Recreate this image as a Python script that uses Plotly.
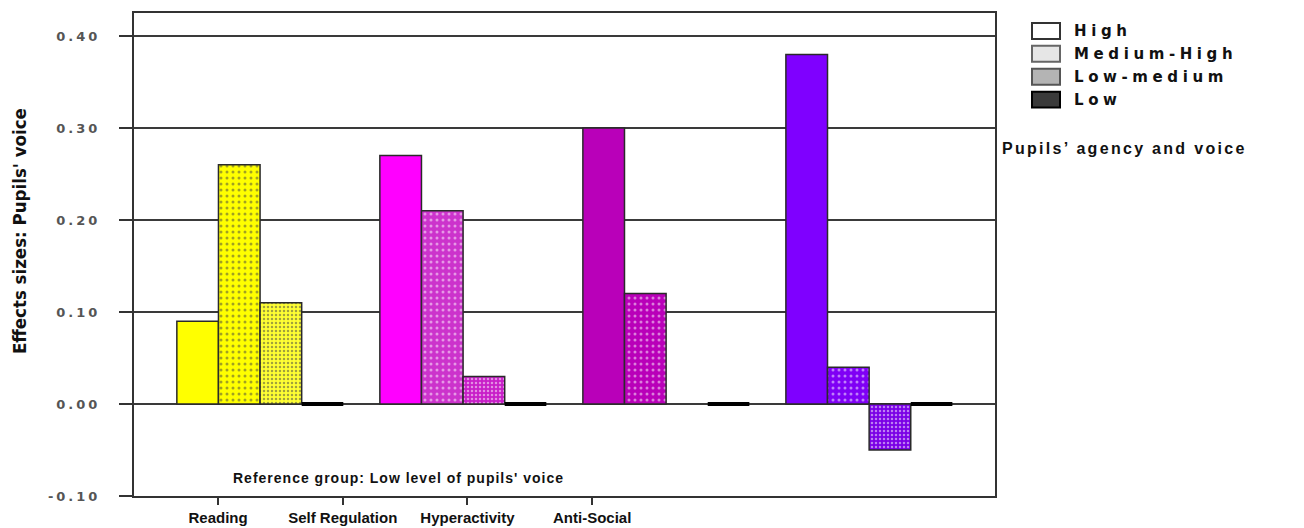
import plotly.graph_objects as go

categories = ["Reading", "Self Regulation", "Hyperactivity", "Anti-Social"]
levels = ["High", "Medium-High", "Low-medium", "Low"]

high = [0.09, 0.27, 0.30, 0.38]
medium_high = [0.26, 0.21, 0.12, 0.04]
low_medium = [0.11, 0.03, 0.00, -0.05]
low = [0.00, 0.00, 0.00, 0.00]

y_ticks = [-0.10, 0.00, 0.10, 0.20, 0.30, 0.40]

# colours per category (bars), pattern dot colours per category
base_col = ["#ffff00", "#ff00ff", "#b900b9", "#7f00ff"]
mh_col = ["#ffff00", "#cc33cc", "#b900b9", "#7f00f5"]
lm_col = ["#ffff33", "#c81ec8", "#b900b9", "#7a00e6"]
mh_dot = ["#5a5a3a", "#f080f0", "#e890e8", "#c890ff"]
lm_dot = ["#6a6a40", "#d050d0", "#d060d0", "#b070ff"]

W, H = 1304, 528
OFF = 8  # page body margin
PL, PR, PT, PB = 134, 995, 11, 496  # plot area on screen


def px(x):
    return (x - PL) / (PR - PL)


def py(y):
    return (PB - y) / (PB - PT)


def spaced(text, gap):
    return f'<span style="letter-spacing:{gap}px">{text}</span>'


xs = list(range(len(categories)))
outline = "#2a2a2a"

fig = go.Figure()
fig.add_trace(go.Bar(
    x=xs, y=high, name=levels[0], showlegend=False,
    marker=dict(color=base_col, line=dict(color=outline, width=1.5)),
))
fig.add_trace(go.Bar(
    x=xs, y=medium_high, name=levels[1], showlegend=False,
    marker=dict(
        color=mh_col, line=dict(color=outline, width=1.5),
        pattern=dict(shape=".", fgcolor=mh_dot, size=6, solidity=0.2),
    ),
))
fig.add_trace(go.Bar(
    x=xs, y=low_medium, name=levels[2], showlegend=False,
    marker=dict(
        color=lm_col,
        line=dict(color=outline, width=[1.5 if v != 0 else 0 for v in low_medium]),
        pattern=dict(shape=".", fgcolor=lm_dot, size=4, solidity=0.3),
    ),
))
fig.add_trace(go.Bar(
    x=xs, y=low, name=levels[3], showlegend=False,
    marker=dict(color="#000000", line=dict(color="#000000", width=4)),
))
# carrier for the category axis
fig.add_trace(go.Scatter(
    x=categories, y=[None] * len(categories), xaxis="x2", mode="markers",
    showlegend=False, hoverinfo="skip",
))

shapes = []
annotations = []

# legend boxes
leg_fill = ["#ffffff", "#e6e6e6", "#b4b4b4", "#3a3a3a"]
leg_line = ["#333333", "#666666", "#555555", "#000000"]
row_y = [29, 52, 75, 98]
for lv, fc, lc, ry in zip(levels, leg_fill, leg_line, row_y):
    shapes.append(dict(
        type="rect", xref="paper", yref="paper",
        x0=px(1032), x1=px(1060), y0=py(ry + 8), y1=py(ry - 8),
        fillcolor=fc, line=dict(color=lc, width=2),
    ))
    annotations.append(dict(
        text=spaced(lv, 4.6), xref="paper", yref="paper", x=px(1072), y=py(ry),
        xanchor="left", yanchor="middle", showarrow=False,
        font=dict(family="DejaVu Sans", size=15, color="#111111", weight="bold"),
    ))

annotations.append(dict(
    text=spaced("Pupils\u2019 agency and voice", 2.3), xref="paper", yref="paper",
    x=px(1000), y=py(147), xanchor="left", yanchor="middle", showarrow=False,
    font=dict(family="Liberation Sans", size=16, color="#111111", weight="bold"),
))
annotations.append(dict(
    text=spaced("Reference group: Low level of pupils' voice", 1), xref="paper", yref="y",
    x=px(398), y=-0.08, xanchor="center", yanchor="middle", showarrow=False,
    font=dict(family="Liberation Sans", size=14, color="#111111", weight="bold"),
))
annotations.append(dict(
    text="Effects sizes: Pupils' voice", xref="paper", yref="paper",
    x=px(19), y=py(230), xanchor="center", yanchor="middle", showarrow=False,
    textangle=-90,
    font=dict(family="DejaVu Sans Condensed", size=18.5, color="#111111", weight="bold"),
))

fig.update_layout(
    width=W, height=H,
    margin=dict(l=PL - OFF, r=W - (PR - OFF), t=PT - OFF, b=H - (PB - OFF)),
    paper_bgcolor="white", plot_bgcolor="white",
    barmode="group", bargap=0.18, bargroupgap=0,
    shapes=shapes, annotations=annotations,
    xaxis=dict(
        range=[-0.621, 3.62], showticklabels=False, ticks="",
        showgrid=False, zeroline=False,
        showline=True, mirror=True, linecolor="#333333", linewidth=2,
    ),
    xaxis2=dict(
        overlaying="x", anchor="y", side="bottom", type="category",
        range=[-0.674, 6.23],
        ticks="outside", ticklen=8, tickwidth=2, tickcolor="#333333",
        showgrid=False, zeroline=False, showline=False,
        tickfont=dict(family="Liberation Sans", size=15, color="#111111", weight="bold"),
    ),
    yaxis=dict(
        range=[-0.10, 0.425], tickvals=y_ticks,
        ticktext=[spaced(f"{v:.2f}", 3) for v in y_ticks],
        ticks="outside", ticklen=13, tickwidth=2, tickcolor="#333333",
        ticklabelstandoff=16,
        showgrid=True, gridcolor="#3a3a3a", gridwidth=1.5,
        zeroline=True, zerolinecolor="#3a3a3a", zerolinewidth=1.5,
        showline=True, mirror=True, linecolor="#333333", linewidth=2,
        tickfont=dict(family="DejaVu Sans", size=13, color="#555555", weight="bold"),
    ),
)

fig.write_html("out.html")
